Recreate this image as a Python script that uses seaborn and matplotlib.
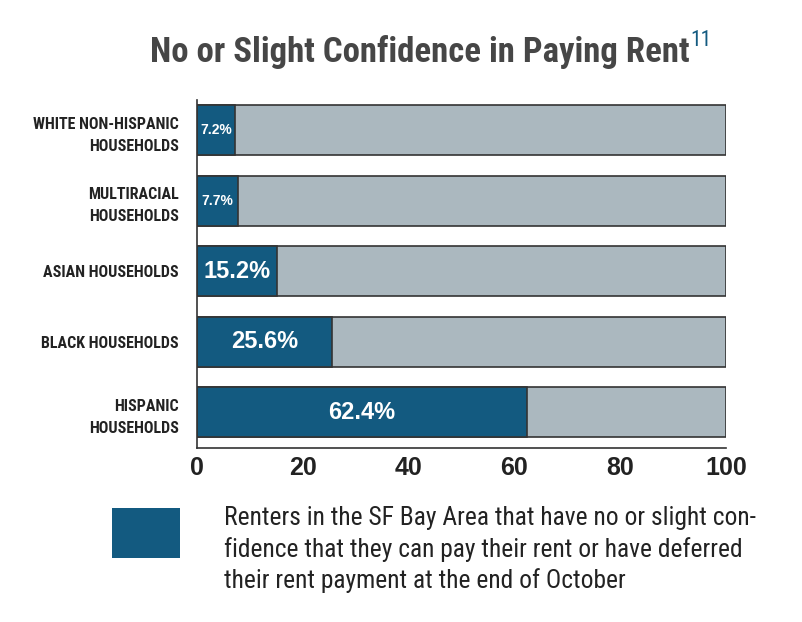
import matplotlib
matplotlib.use("Agg")
import matplotlib.pyplot as plt
import seaborn as sns
import pandas as pd
from matplotlib.patches import Patch

# Data
categories = ["WHITE NON-HISPANIC\nHOUSEHOLDS", "MULTIRACIAL\nHOUSEHOLDS",
              "ASIAN HOUSEHOLDS", "BLACK HOUSEHOLDS", "HISPANIC\nHOUSEHOLDS"]
values = [7.2, 7.7, 15.2, 25.6, 62.4]
totals = [100, 100, 100, 100, 100]
xticks = [0, 20, 40, 60, 80, 100]
legend_label = ("Renters in the SF Bay Area that have no or slight con-\n"
                "fidence that they can pay their rent or have deferred\n"
                "their rent payment at the end of October")

df = pd.DataFrame({"group": categories, "value": values, "total": totals})

blue = "#135a80"
grey = "#abb8bf"
edge = "#333333"
narrow = ["Roboto Condensed", "Archivo Narrow", "PT Sans Narrow", "DejaVu Sans"]
arial = ["Arimo", "Liberation Sans", "DejaVu Sans"]

sns.set_style("white")
plt.rcParams["font.family"] = arial

fig = plt.figure(figsize=(8.03, 6.22), dpi=100)
ax = fig.add_axes([0.2453, 0.2797, 0.6588, 0.5595])

sns.barplot(data=df, x="total", y="group", orient="h", color=grey,
            saturation=1, width=0.71, edgecolor=edge, linewidth=1.2, ax=ax)
sns.barplot(data=df, x="value", y="group", orient="h", color=blue,
            saturation=1, width=0.71, edgecolor=edge, linewidth=1.2, ax=ax)

# value labels inside the blue bars
for i, v in enumerate(values):
    size = 10 if v < 10 else 17
    ax.text(v / 2, i, f"{v:.1f}%", color="white", fontsize=size,
            fontweight="bold", ha="center", va="center")

ax.set_xlim(0, 100)
ax.set_ylim(4.51, -0.43)
ax.set_xticks(xticks)
ax.set_xticklabels([str(t) for t in xticks], fontsize=18, fontweight="bold",
                   color="#222222")
ax.set_xlabel("")
ax.set_ylabel("")
ax.tick_params(axis="x", direction="in", length=10, width=1.2, color=edge, pad=6)
ax.tick_params(axis="y", length=0, pad=13)
for lab in ax.get_yticklabels():
    lab.set_fontfamily(narrow)
    lab.set_fontweight("bold")
    lab.set_fontsize(11.5)
    lab.set_color("#222222")
    lab.set_linespacing(1.6)
for s in ["top", "right"]:
    ax.spines[s].set_visible(False)
for s in ["left", "bottom"]:
    ax.spines[s].set_color(edge)
    ax.spines[s].set_linewidth(1.2)

# title with blue superscript
title = fig.text(0.187, 0.900, "No or Slight Confidence in Paying Rent",
                 fontsize=25, fontweight="bold", color="#464646",
                 family=narrow, ha="left", va="baseline")
fig.canvas.draw()
bb = title.get_window_extent()
fig.text(bb.x1 / fig.bbox.width + 0.001, 0.952, "11", fontsize=15.5,
         color=blue, family=narrow, ha="left", va="top")

# legend swatch and its text
handle = Patch(facecolor=blue, edgecolor="none")
fig.legend(handles=[handle], labels=[""], loc="upper left",
           bbox_to_anchor=(0.1395, 0.1833), frameon=False, borderpad=0,
           borderaxespad=0, handletextpad=0, fontsize=18,
           handlelength=2.72, handleheight=2.7)
fig.text(0.279, 0.186, legend_label, family=narrow, fontsize=18.4,
         color="#222222", ha="left", va="top", linespacing=1.32)

fig.savefig("out.png", dpi=100)
